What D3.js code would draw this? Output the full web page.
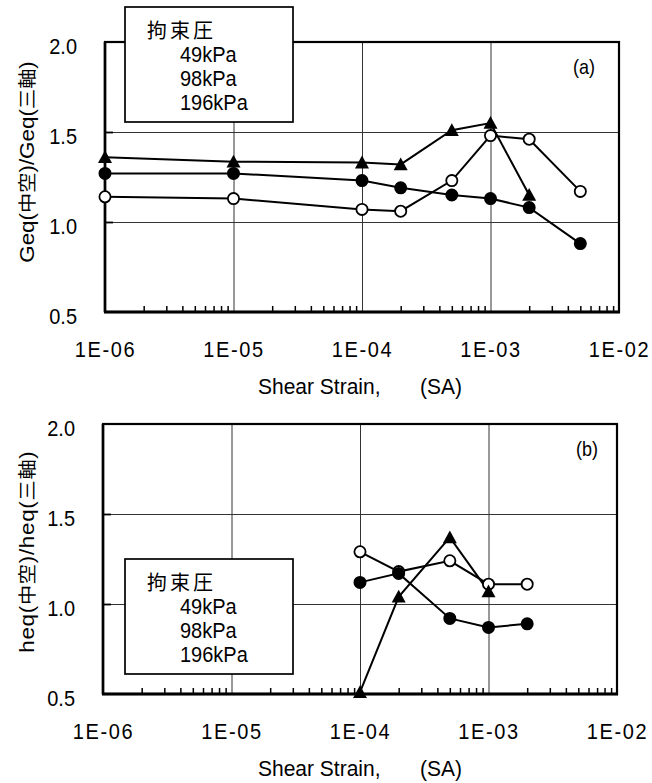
<!DOCTYPE html>
<html>
<head>
<meta charset="utf-8">
<script src="https://cdn.jsdelivr.net/npm/d3@7"></script>
<style>
  body { margin: 0; background: #fff; }
  svg text { font-family: "Liberation Sans", Arial, "Noto Sans CJK JP", sans-serif; fill: #000; }
</style>
</head>
<body>
<svg id="chart" width="652" height="783"></svg>
<script>
// Shear strain levels (single amplitude) and ratio of hollow-cylinder to triaxial values
const strainG = [1e-6, 1e-5, 1e-4, 2e-4, 5e-4, 1e-3, 2e-3, 5e-3];
const geq49  = [1.14, 1.13, 1.07, 1.06, 1.23, 1.48, 1.46, 1.17];
const geq98  = [1.27, 1.27, 1.23, 1.19, 1.15, 1.13, 1.08, 0.88];
const strainG196 = [1e-6, 1e-5, 1e-4, 2e-4, 5e-4, 1e-3, 2e-3];
const geq196 = [1.36, 1.335, 1.33, 1.32, 1.51, 1.55, 1.15];

const strainH = [1e-4, 2e-4, 5e-4, 1e-3, 2e-3];
const heq49  = [1.29, 1.18, 1.24, 1.11, 1.11];
const heq98  = [1.12, 1.17, 0.92, 0.87, 0.89];
const strainH196 = [1e-4, 2e-4, 5e-4, 1e-3];
const heq196 = [0.51, 1.04, 1.37, 1.07];

const xTicks = [1e-6, 1e-5, 1e-4, 1e-3, 1e-2];
const yTicks = [0.5, 1.0, 1.5, 2.0];
const legendTitle = "拘束圧";
const legendLabels = ["49kPa", "98kPa", "196kPa"];
const xTitle = ["Shear Strain,", "(SA)"];

const svg = d3.select("#chart");
const LATIN = "Liberation Sans, Arial, sans-serif";
const CJK = "Noto Sans CJK JP, sans-serif";

// Triangle marker centred on its bounding box
const triangleMarker = {
  draw(ctx) {
    const w = 7, top = -7, bot = 5.8;
    ctx.moveTo(0, top);
    ctx.lineTo(w, bot);
    ctx.lineTo(-w, bot);
    ctx.closePath();
  }
};

// Tall glyphs: stretch a text vertically about its own baseline
function tall(sel, k) {
  sel.each(function () {
    const t = d3.select(this);
    const y0 = +t.attr("y") || 0;
    t.attr("transform", `translate(0,${y0}) scale(1,${k}) translate(0,${-y0})`);
  });
}

const fmtExp = v => "1E-" + String(-Math.round(Math.log10(v))).padStart(2, "0");

function drawPanel(cfg) {
  const g = svg.append("g");
  const x = d3.scaleLog().domain([1e-6, 1e-2]).range([cfg.left, cfg.right]);
  const y = d3.scaleLinear().domain([0.5, 2.0]).range([cfg.bottom, cfg.top]);
  const h = cfg.bottom - cfg.top, w = cfg.right - cfg.left;

  // vertical grid at decades
  g.append("g")
    .attr("transform", `translate(0,${cfg.bottom})`)
    .call(d3.axisBottom(x).tickValues(xTicks.slice(1, -1)).tickSize(-h).tickFormat(""))
    .call(a => a.select(".domain").remove())
    .call(a => a.selectAll("line").attr("stroke", "#333").attr("stroke-width", 1));

  // horizontal grid
  g.append("g")
    .attr("transform", `translate(${cfg.left},0)`)
    .call(d3.axisLeft(y).tickValues([1.0, 1.5]).tickSize(-w).tickFormat(""))
    .call(a => a.select(".domain").remove())
    .call(a => a.selectAll("line").attr("stroke", "#333").attr("stroke-width", 1));

  // short inward major ticks on the y axis
  g.append("g")
    .attr("transform", `translate(${cfg.left},0)`)
    .call(d3.axisLeft(y).tickValues([1.0, 1.5]).tickSize(-8).tickFormat(""))
    .call(a => a.select(".domain").remove())
    .call(a => a.selectAll("line").attr("stroke", "#000").attr("stroke-width", 1.8));

  // minor log ticks pointing inward from the bottom axis
  const minor = [];
  for (let e = -6; e < -2; e++) for (let m = 2; m <= 9; m++) minor.push(m * Math.pow(10, e));
  g.append("g")
    .attr("transform", `translate(0,${cfg.bottom})`)
    .call(d3.axisBottom(x).tickValues(minor).tickSize(-6).tickFormat(""))
    .call(a => a.select(".domain").remove())
    .call(a => a.selectAll("line").attr("stroke", "#000").attr("stroke-width", 1.5));

  // frame
  g.append("rect")
    .attr("x", cfg.left).attr("y", cfg.top).attr("width", w).attr("height", h)
    .attr("fill", "none").attr("stroke", "#000").attr("stroke-width", 2.2);
  g.append("line")
    .attr("x1", cfg.left - 1).attr("x2", cfg.right + 1)
    .attr("y1", cfg.bottom).attr("y2", cfg.bottom)
    .attr("stroke", "#000").attr("stroke-width", 3);
  g.append("line")
    .attr("x1", cfg.left).attr("x2", cfg.left)
    .attr("y1", cfg.top).attr("y2", cfg.bottom)
    .attr("stroke", "#000").attr("stroke-width", 2.6);

  // x tick labels
  g.append("g")
    .attr("transform", `translate(0,${cfg.bottom})`)
    .call(d3.axisBottom(x).tickValues(xTicks).tickSize(0).tickFormat(fmtExp))
    .call(a => a.select(".domain").remove())
    .call(a => a.selectAll("text")
      .attr("y", 45).attr("dy", 0)
      .attr("font-size", 20).attr("letter-spacing", "1.6px")
      .attr("font-family", LATIN).attr("fill", "#000")
      .call(tall, 1.1));

  // y tick labels
  g.append("g")
    .attr("transform", `translate(${cfg.left},0)`)
    .call(d3.axisLeft(y).tickValues(yTicks).tickSize(0).tickPadding(28).tickFormat(d3.format(".1f")))
    .call(a => a.select(".domain").remove())
    .call(a => a.selectAll("text")
      .attr("y", 11).attr("dy", 0)
      .attr("font-size", 20)
      .attr("font-family", LATIN).attr("fill", "#000")
      .call(tall, 1.12));

  // series
  const line = d3.line().x(d => x(d[0])).y(d => y(d[1]));
  cfg.series.forEach(s => {
    const pts = s.xs.map((v, i) => [v, s.ys[i]]);
    g.append("path").datum(pts)
      .attr("d", line).attr("fill", "none")
      .attr("stroke", "#000").attr("stroke-width", 2);
  });
  cfg.series.forEach(s => {
    const pts = s.xs.map((v, i) => [v, s.ys[i]]);
    if (s.kind === "tri") {
      g.selectAll(null).data(pts).join("path")
        .attr("transform", d => `translate(${x(d[0])},${y(d[1])})`)
        .attr("d", d3.symbol(triangleMarker))
        .attr("fill", "#000");
    } else {
      g.selectAll(null).data(pts).join("circle")
        .attr("cx", d => x(d[0])).attr("cy", d => y(d[1])).attr("r", 5.6)
        .attr("fill", s.kind === "open" ? "#fff" : "#000")
        .attr("stroke", "#000").attr("stroke-width", 1.8);
    }
  });

  // legend box
  const lg = g.append("g").attr("transform", `translate(125,${cfg.legendTop})`);
  lg.append("rect").attr("width", 168).attr("height", 115)
    .attr("fill", "#fff").attr("stroke", "#000").attr("stroke-width", 1.7);
  lg.append("text").attr("x", 22).attr("y", 31).attr("font-size", 20)
    .attr("letter-spacing", "3px")
    .attr("font-family", CJK).text(legendTitle)
    .call(tall, 1.03);
  lg.selectAll(null).data(legendLabels).join("text")
    .attr("x", 55).attr("y", (d, i) => 55 + i * 24)
    .attr("font-size", 20).attr("font-family", LATIN).text(d => d)
    .call(tall, 1.07);

  // panel tag
  g.append("text").attr("x", cfg.tagX).attr("y", cfg.top + 32)
    .attr("font-size", 18).attr("font-family", LATIN).text(cfg.tag)
    .call(tall, 1.15);

  // x title
  g.append("text").attr("x", 258).attr("y", cfg.bottom + 82).attr("font-size", 21)
    .attr("font-family", LATIN).text(xTitle[0]).call(tall, 1.08);
  g.append("text").attr("x", 420).attr("y", cfg.bottom + 82).attr("font-size", 21)
    .attr("font-family", LATIN).text(xTitle[1]).call(tall, 1.08);

  // y title, stretched along its (vertical) run
  const yt = g.append("text")
    .attr("transform", `translate(34,${cfg.titleY}) rotate(-90) scale(1.12,1)`)
    .attr("text-anchor", "middle").attr("font-size", 20)
    .attr("textLength", 180).attr("lengthAdjust", "spacing");
  cfg.ylabel.forEach(part => {
    yt.append("tspan")
      .attr("font-family", part.cjk ? CJK : LATIN)
      .attr("font-size", part.cjk ? 18 : 20)
      .text(part.t);
  });
}

drawPanel({
  left: 105, right: 619, top: 42, bottom: 312, legendTop: 7, tag: "(a)", tagX: 573, titleY: 162,
  ylabel: [{t: "Geq("}, {t: "中空", cjk: true}, {t: ")/Geq("}, {t: "三軸", cjk: true}, {t: ")"}],
  series: [
    {xs: strainG, ys: geq49, kind: "open"},
    {xs: strainG, ys: geq98, kind: "fill"},
    {xs: strainG196, ys: geq196, kind: "tri"}
  ]
});

drawPanel({
  left: 103, right: 617, top: 424, bottom: 694, legendTop: 559, tag: "(b)", tagX: 576, titleY: 552,
  ylabel: [{t: "heq("}, {t: "中空", cjk: true}, {t: ")/heq("}, {t: "三軸", cjk: true}, {t: ")"}],
  series: [
    {xs: strainH, ys: heq49, kind: "open"},
    {xs: strainH, ys: heq98, kind: "fill"},
    {xs: strainH196, ys: heq196, kind: "tri"}
  ]
});
</script>
</body>
</html>
